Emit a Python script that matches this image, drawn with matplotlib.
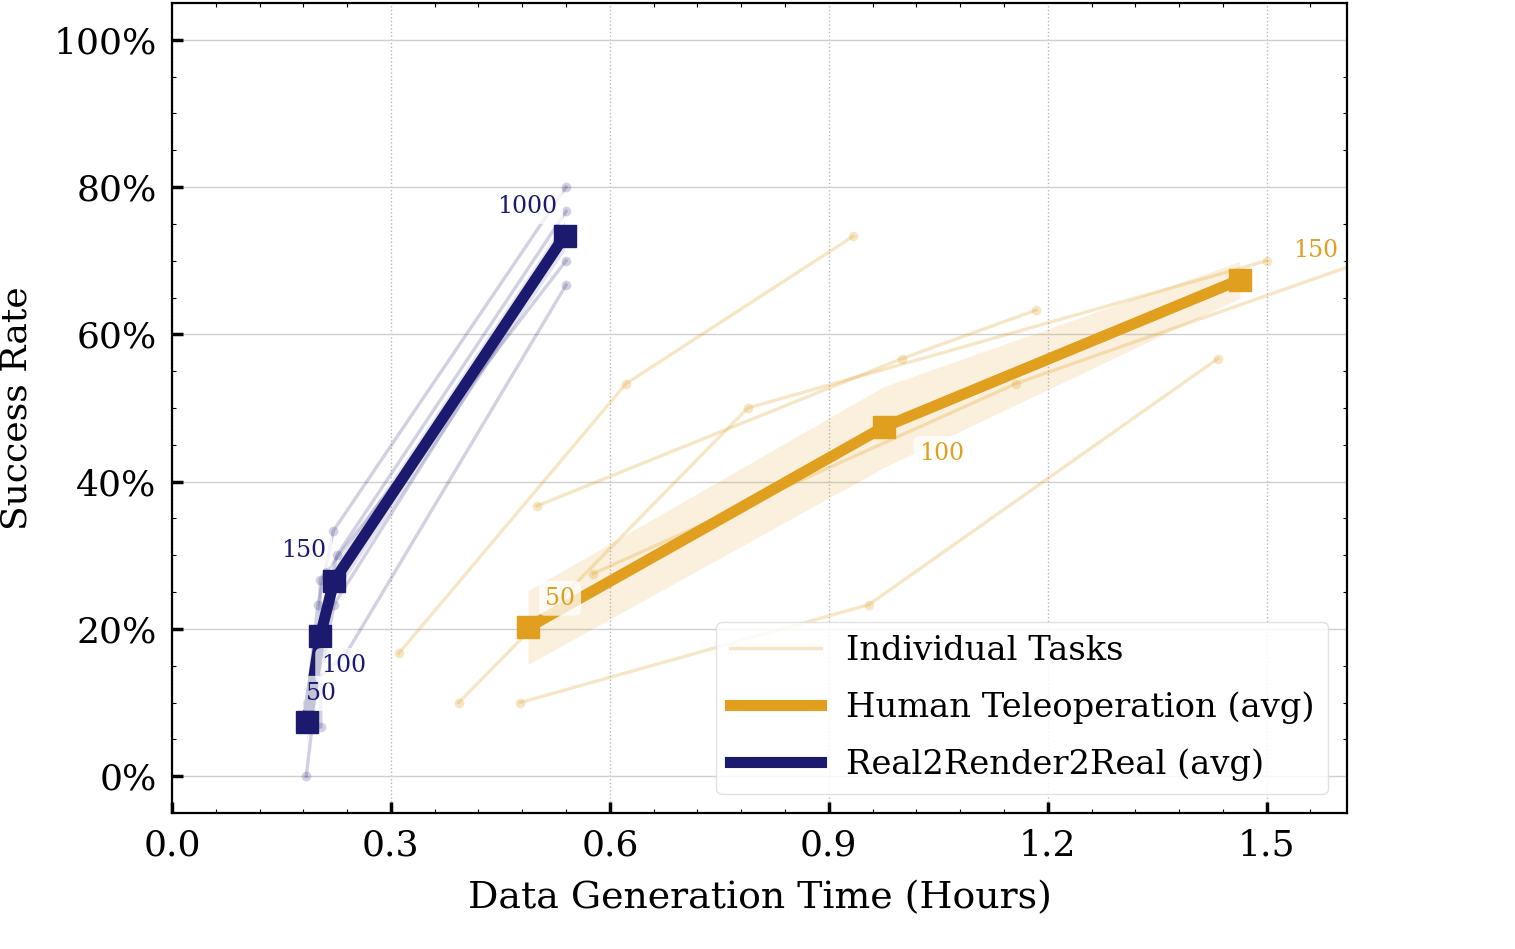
import matplotlib
matplotlib.use("Agg")
import matplotlib.pyplot as plt
from matplotlib.ticker import AutoMinorLocator, FuncFormatter

plt.rcParams['font.family'] = ['DejaVu Serif']

# averaged curves
demo_labels_r2r = ['50', '100', '150', '1000']
r2r_time = [0.185, 0.203, 0.222, 0.538]
r2r_rate = [7.3, 19.0, 26.5, 73.4]
r2r_spread = [2.5, 2.0, 2.0, 2.0]

demo_labels_tele = ['50', '100', '150']
tele_time = [0.488, 0.975, 1.463]
tele_rate = [20.2, 47.4, 67.4]
tele_spread = [5.0, 5.5, 2.5]

# individual tasks (human teleoperation)
tele_tasks_time = [
    [0.311, 0.622, 0.933],
    [0.393, 0.789, 1.500],
    [0.500, 1.000, 1.184],
    [0.477, 0.955, 1.433],
    [0.577, 1.156, 1.730],
]
tele_tasks_rate = [
    [16.7, 53.3, 73.3],
    [10.0, 50.0, 70.0],
    [36.7, 56.7, 63.3],
    [10.0, 23.3, 56.7],
    [27.5, 53.3, 73.3],
]

# individual tasks (real2render2real)
r2r_tasks_time = [
    [0.184, 0.200, 0.239, 0.540],
    [0.204, 0.203, 0.203, 0.540],
    [0.185, 0.200, 0.221, 0.540],
    [0.185, 0.202, 0.226, 0.540],
    [0.185, 0.210, 0.222, 0.540],
]
r2r_tasks_rate = [
    [0.0, 13.3, 16.7, 66.7],
    [6.7, 20.0, 26.7, 70.0],
    [10.0, 23.3, 33.3, 80.0],
    [10.0, 20.0, 30.0, 76.7],
    [10.0, 16.7, 23.3, 73.3],
]

orange = '#e09f1e'
navy = '#1b1a6f'

fig = plt.figure(figsize=(15.15, 9.49), dpi=100)
ax = fig.add_axes([0.1135, 0.1433, 0.7756, 0.8535])

for xs, ys in zip(tele_tasks_time, tele_tasks_rate):
    ax.plot(xs, ys, color=orange, alpha=0.25, lw=2.4, marker='o', ms=7,
            mec='none', zorder=2)
for xs, ys in zip(r2r_tasks_time, r2r_tasks_rate):
    ax.plot(xs, ys, color=navy, alpha=0.2, lw=2.4, marker='o', ms=7,
            mec='none', zorder=2)

lo = [m - s for m, s in zip(tele_rate, tele_spread)]
hi = [m + s for m, s in zip(tele_rate, tele_spread)]
ax.fill_between(tele_time, lo, hi, color=orange, alpha=0.15, lw=0, zorder=3)
lo = [m - s for m, s in zip(r2r_rate, r2r_spread)]
hi = [m + s for m, s in zip(r2r_rate, r2r_spread)]
ax.fill_between(r2r_time, lo, hi, color=navy, alpha=0.12, lw=0, zorder=3)

ax.plot(tele_time, tele_rate, color=orange, lw=8, marker='s', ms=16, zorder=5)
ax.plot(r2r_time, r2r_rate, color=navy, lw=8, marker='s', ms=16, zorder=5)

box = dict(boxstyle='round,pad=0.25', fc='white', ec='none', alpha=0.75)
r2r_offsets = [(10, 21), (17, -21), (-22, 22), (-27, 21)]
for lab, x, y, off in zip(demo_labels_r2r, r2r_time, r2r_rate, r2r_offsets):
    ax.annotate(lab, (x, y), xytext=off, textcoords='offset points',
                ha='center', va='center', fontsize=17, color=navy,
                bbox=box, zorder=6)
tele_offsets = [(23, 21), (42, -19), (55, 21)]
for lab, x, y, off in zip(demo_labels_tele, tele_time, tele_rate, tele_offsets):
    ax.annotate(lab, (x, y), xytext=off, textcoords='offset points',
                ha='center', va='center', fontsize=17, color=orange,
                bbox=box, zorder=6)

ax.set_xlim(0, 1.61)
ax.set_ylim(-5, 105)
ax.set_xticks([0.0, 0.3, 0.6, 0.9, 1.2, 1.5])
ax.set_yticks([0, 20, 40, 60, 80, 100])
ax.yaxis.set_major_formatter(FuncFormatter(lambda v, p: f'{v:.0f}%'))
ax.xaxis.set_minor_locator(AutoMinorLocator(5))
ax.yaxis.set_minor_locator(AutoMinorLocator(4))
ax.tick_params(which='major', direction='in', length=8, width=2.5,
               labelsize=26, pad=11, top=False, right=False)
ax.tick_params(which='minor', direction='in', length=3, width=0.8,
               top=True, right=True)
for sp in ax.spines.values():
    sp.set_linewidth(1.6)

ax.grid(axis='y', color='#d0d0d0', lw=1.0, ls='-', zorder=0)
ax.grid(axis='x', color='#b8b8b8', lw=1.0, ls=':', zorder=0)

ax.set_xlabel('Data Generation Time (Hours)', fontsize=27.3, labelpad=13)
ax.set_ylabel('Success Rate', fontsize=26, labelpad=14)

handles = [
    plt.Line2D([], [], color=orange, alpha=0.25, lw=2.4),
    plt.Line2D([], [], color=orange, lw=8),
    plt.Line2D([], [], color=navy, lw=8),
]
leg = ax.legend(handles, ['Individual Tasks', 'Human Teleoperation (avg)',
                          'Real2Render2Real (avg)'],
                loc='lower right', fontsize=24.3, handlelength=2.7,
                handletextpad=0.75, borderaxespad=0.55, borderpad=0.4,
                framealpha=0.85, edgecolor='#dddddd',
                fancybox=True, labelspacing=0.72)

fig.savefig('out.png', dpi=100)
